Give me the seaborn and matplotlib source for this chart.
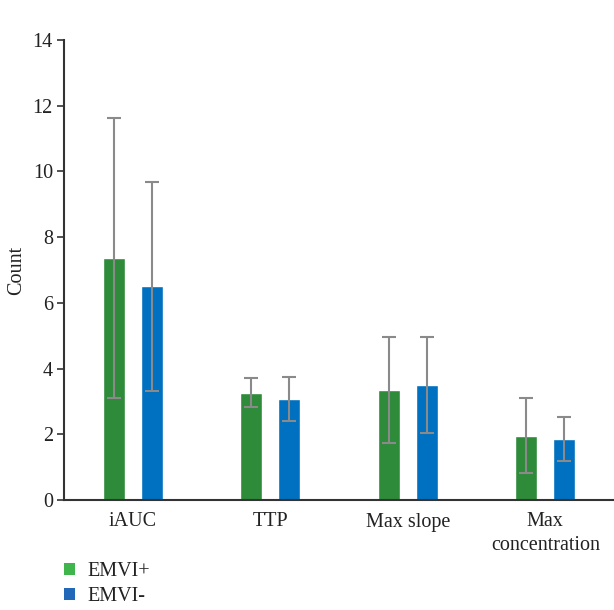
import matplotlib
matplotlib.use("Agg")
import matplotlib.pyplot as plt
from matplotlib.patches import Patch
import seaborn as sns
import pandas as pd
import numpy as np

categories = ["iAUC", "TTP", "Max slope", "Max\nconcentration"]
groups = ["EMVI+", "EMVI-"]
emvi_pos = [7.36, 3.26, 3.35, 1.95]
emvi_neg = [6.51, 3.07, 3.50, 1.86]
err_pos = [4.26, 0.44, 1.61, 1.14]
err_neg = [3.18, 0.67, 1.47, 0.68]
yticks = [0, 2, 4, 6, 8, 10, 12, 14]

bar_colors = ["#2e8b3a", "#0070c0"]
legend_colors = ["#3fb54b", "#2168b8"]

df = pd.DataFrame({
    "category": categories * 2,
    "group": [groups[0]] * 4 + [groups[1]] * 4,
    "value": emvi_pos + emvi_neg,
    "err": err_pos + err_neg,
})

sns.set_style("white")
plt.rcParams["font.family"] = ["Liberation Serif", "DejaVu Serif"]
FS = 14.5

fig = plt.figure(figsize=(6.14, 6.10), dpi=100)
ax = fig.add_axes([64 / 614, 1 - 500 / 610, 1 - 64 / 614, 460 / 610])

sns.barplot(data=df, x="category", y="value", hue="group", order=categories,
            hue_order=groups, palette=bar_colors, width=0.55, gap=0.42,
            errorbar=None, legend=False, ax=ax, saturation=1)

# error bars at bar centers
for container, errs in zip(ax.containers, [err_pos, err_neg]):
    for patch, e in zip(container.patches, errs):
        xc = patch.get_x() + patch.get_width() / 2
        ax.errorbar(xc, patch.get_height(), yerr=e, fmt="none",
                    ecolor="#8a8a8a", elinewidth=1.5, capsize=5, capthick=1.5)

ax.set_ylim(0, 14)
ax.set_xlim(-0.5, 3.5)
ax.set_yticks(yticks)
ax.set_yticklabels([str(t) for t in yticks], fontsize=FS, color="#222222")
ax.set_xticklabels(categories, fontsize=FS, color="#222222", linespacing=1.3)
ax.set_xlabel("")
ax.set_ylabel("Count", fontsize=FS, color="#222222", va="center")
ax.yaxis.set_label_coords(-(64 - 17) / 550, 0.5)
ax.tick_params(axis="y", direction="out", length=5, width=1.2, color="#333333", left=True, pad=3)
ax.tick_params(axis="x", length=0, pad=9)
for s in ["top", "right"]:
    ax.spines[s].set_visible(False)
for s in ["left", "bottom"]:
    ax.spines[s].set_color("#333333")
    ax.spines[s].set_linewidth(1.5)

handles = [Patch(facecolor=c, edgecolor="none") for c in legend_colors]
fig.legend(handles, groups, loc="upper left", bbox_to_anchor=(64 / 614, 1 - 562 / 610),
           frameon=False, fontsize=FS, handlelength=0.55, handleheight=0.55,
           handletextpad=0.6, labelspacing=0.3, borderaxespad=0, borderpad=0,
           labelcolor="#222222")

fig.savefig("out.png", dpi=100)
